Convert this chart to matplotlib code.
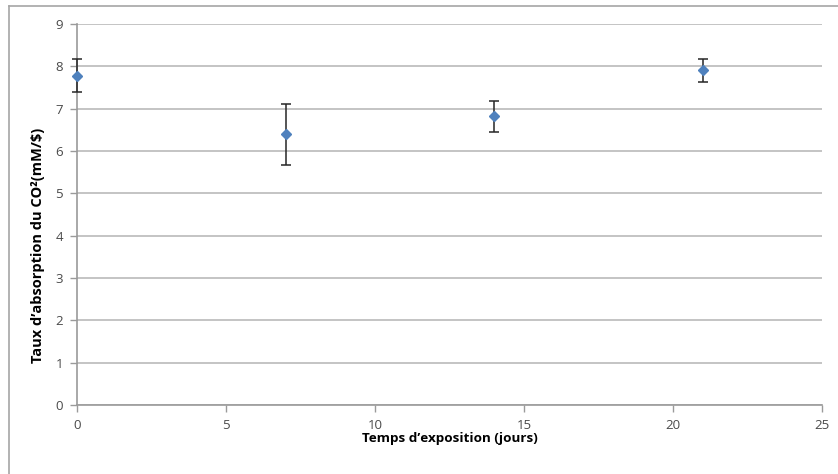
import matplotlib
matplotlib.use("Agg")
import matplotlib.pyplot as plt
from matplotlib.lines import Line2D

# données
jours = [0, 7, 14, 21]
taux = [7.77, 6.40, 6.82, 7.91]
err_bas = [0.37, 0.73, 0.36, 0.27]
err_haut = [0.40, 0.71, 0.37, 0.26]

x_ticks = [0, 5, 10, 15, 20, 25]
y_ticks = list(range(0, 10))

plt.rcParams["font.family"] = ["Open Sans", "DejaVu Sans"]

fig = plt.figure(figsize=(8.38, 4.74), dpi=100)
ax = fig.add_axes([77 / 838, 1 - 405 / 474, (822 - 77) / 838, (405 - 24) / 474])

ax.errorbar(jours, taux, yerr=[err_bas, err_haut], fmt="D", color="#4F81BD",
            markersize=5.5, ecolor="#262626", elinewidth=1.1, capsize=3.5,
            capthick=1.1, zorder=3, clip_on=False)

ax.set_xlim(0, 25)
ax.set_ylim(0, 9)
ax.set_xticks(x_ticks)
ax.set_yticks(y_ticks)
ax.yaxis.grid(True, color="#BFBFBF", linewidth=1.3)
ax.set_axisbelow(True)

for s in ["top", "right"]:
    ax.spines[s].set_visible(False)
for s in ["left", "bottom"]:
    ax.spines[s].set_color("#9A9A9A")
    ax.spines[s].set_linewidth(1.2)

ax.tick_params(axis="both", direction="out", length=5, width=1, color="#9A9A9A",
               labelsize=9.5, labelcolor="#4A4A4A")
ax.tick_params(axis="x", pad=5)
ax.tick_params(axis="y", pad=5)

ax.set_xlabel("Temps d\u2019exposition (jours)", fontsize=9.7, fontweight="bold",
              labelpad=0)
ax.set_ylabel("Taux d\u2019absorption du CO\u00b2(mM/$)", fontsize=10.5,
              fontweight="bold")
ax.yaxis.set_label_coords(-32 / 745, 0.42)

# cadre extérieur (coupé à droite et en bas)
fig.add_artist(Line2D([9 / 838, 9 / 838], [0, 1 - 6 / 474], color="#A6A6A6",
                      linewidth=1.2, transform=fig.transFigure))
fig.add_artist(Line2D([9 / 838, 1], [1 - 6 / 474, 1 - 6 / 474], color="#A6A6A6",
                      linewidth=1.2, transform=fig.transFigure))

fig.savefig("out.png", dpi=100)
